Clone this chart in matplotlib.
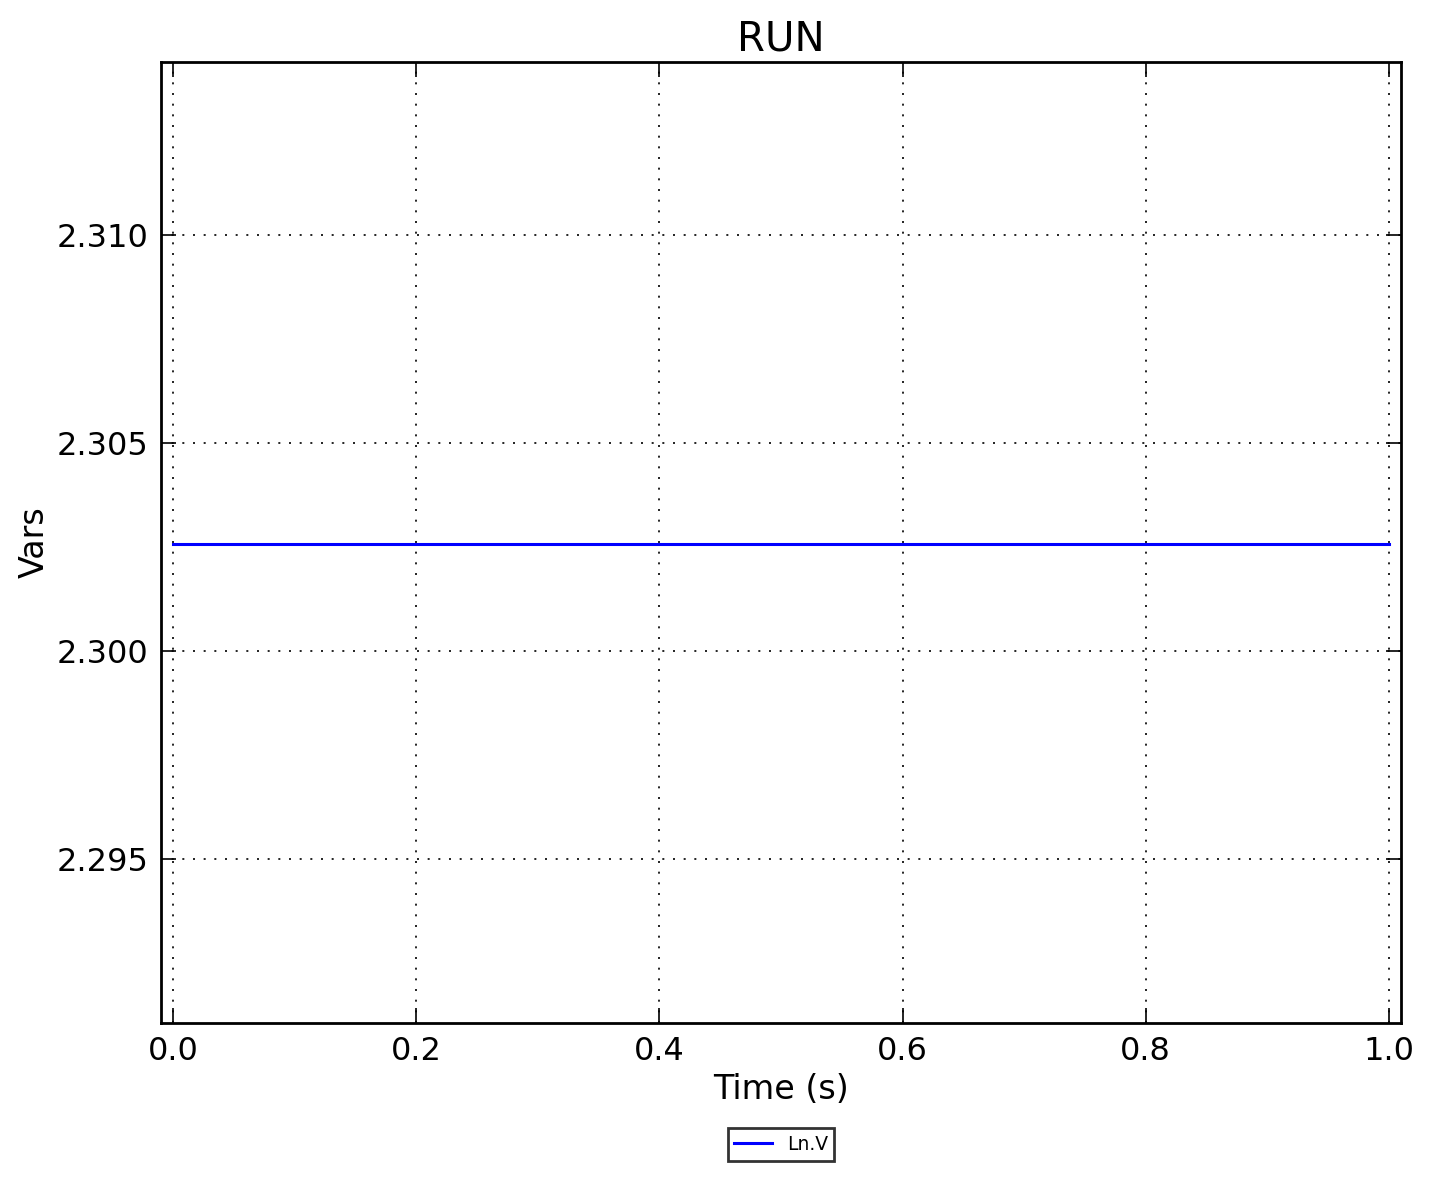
import matplotlib
matplotlib.use("Agg")
import matplotlib.pyplot as plt
from matplotlib.ticker import MultipleLocator, FormatStrFormatter

# ========== 数据 ==========
time_s = [0.0, 0.2, 0.4, 0.6, 0.8, 1.0]
ln_v = [2.302585, 2.302585, 2.302585, 2.302585, 2.302585, 2.302585]
series_label = "Ln.V"

x_limits = (-0.01, 1.01)
y_limits = (2.29107, 2.31416)
x_ticks = [0.0, 0.2, 0.4, 0.6, 0.8, 1.0]

# ========== 绘图 ==========
fig = plt.figure(figsize=(14.32, 11.79), dpi=100)
ax = fig.add_axes([0.1124, 0.1323, 0.8660, 0.8151])

ax.plot(time_s, ln_v, color="blue", lw=2.2, label=series_label)

ax.set_xlim(*x_limits)
ax.set_ylim(*y_limits)
ax.set_xticks(x_ticks)
ax.xaxis.set_major_formatter(FormatStrFormatter("%.1f"))
ax.yaxis.set_major_locator(MultipleLocator(0.005))
ax.yaxis.set_major_formatter(FormatStrFormatter("%.3f"))

ax.tick_params(direction="in", length=11, width=1.2, labelsize=23,
               top=True, right=True, pad=9)
for sp in ax.spines.values():
    sp.set_linewidth(2.0)

ax.grid(True, color="black", linestyle=(0, (1.2, 5.2)), lw=1.2)

ax.set_xlabel("Time (s)", fontsize=24, labelpad=5)
ax.set_ylabel("Vars", fontsize=24, labelpad=4)
ax.set_title("RUN", fontsize=29, pad=8)

leg = ax.legend(loc="upper center", bbox_to_anchor=(0.5, -0.1),
                fontsize=13.5, frameon=True, fancybox=False,
                handlelength=2.0, borderpad=0.35)
leg.get_frame().set_edgecolor("black")
leg.get_frame().set_linewidth(2.0)

fig.savefig("out.png", dpi=100)
